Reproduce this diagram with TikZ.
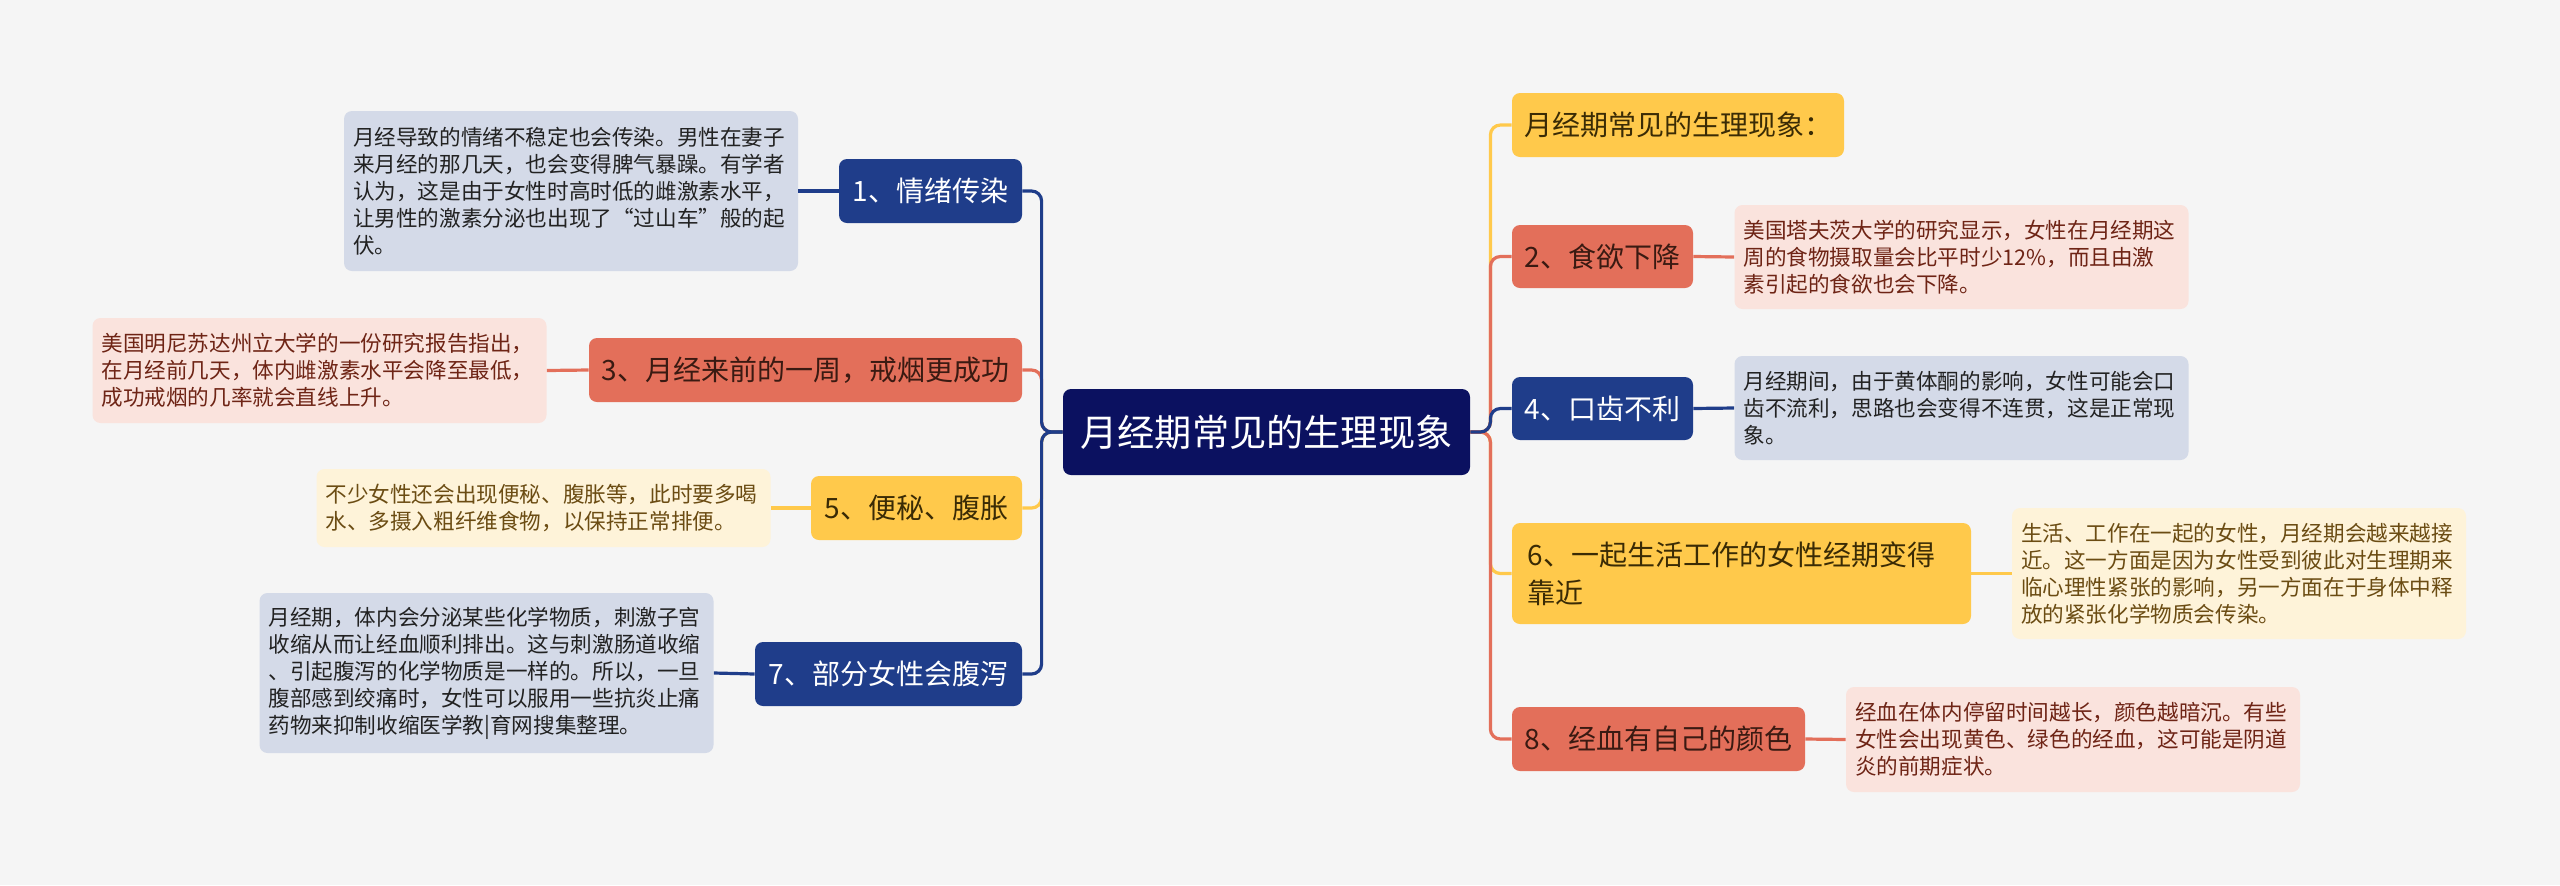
\documentclass[tikz,border=0pt]{standalone}
\usepackage{fontspec}
\newfontfamily\cjk{Noto Sans CJK SC}
\definecolor{bg}{HTML}{F5F5F5}
\definecolor{croot}{HTML}{0B1160}
\definecolor{cblue}{HTML}{1F3D8A}
\definecolor{cbluedet}{HTML}{D4DAE8}
\definecolor{cbluedettxt}{HTML}{222222}
\definecolor{cred}{HTML}{E36F5A}
\definecolor{credtxt}{HTML}{3A1A12}
\definecolor{creddet}{HTML}{FAE3DD}
\definecolor{creddettxt}{HTML}{6E2415}
\definecolor{cyel}{HTML}{FFC94B}
\definecolor{cyeltxt}{HTML}{3A2B05}
\definecolor{cyeldet}{HTML}{FEF3D9}
\definecolor{cyeldettxt}{HTML}{6B4C13}
\begin{document}
\begin{tikzpicture}[x=0.5pt,y=-0.5pt,
  base/.style={rounded corners=4pt, inner sep=0pt},
  rootbox/.style={base, fill=croot, text=white, minimum width=203.5pt, minimum height=43pt, font=\cjk\fontsize{18.6}{22}\selectfont},
  mainbox/.style={base, minimum height=32pt, font=\cjk\fontsize{14}{19}\selectfont},
  bluebox/.style={mainbox, fill=cblue, text=white},
  redbox/.style={mainbox, fill=cred, text=credtxt},
  yelbox/.style={mainbox, fill=cyel, text=cyeltxt},
  detail/.style={base, text width=218pt, inner xsep=4.5pt, align=left, font=\cjk\fontsize{10.8}{13.5}\selectfont},
  bluedet/.style={detail, fill=cbluedet, text=cbluedettxt},
  reddet/.style={detail, fill=creddet, text=creddettxt},
  yeldet/.style={detail, fill=cyeldet, text=cyeldettxt},
  link/.style={line width=1.6pt, rounded corners=5pt}
]
\fill[bg] (0,0) rectangle (2560,885);
\useasboundingbox (0,0) rectangle (2560,885);

% root
\node[rootbox] (root) at (1266.5,432) {月经期常见的生理现象};

% left side
\node[bluebox, minimum width=91.5pt] (b1) at (930.5,191) {1、情绪传染};
\node[bluedet, minimum height=80pt] (t1) at (571,191) {月经导致的情绪不稳定也会传染。男性在妻子\\来月经的那几天，也会变得脾气暴躁。有学者\\认为，这是由于女性时高时低的雌激素水平，\\让男性的激素分泌也出现了“过山车”般的起\\伏。};

\node[redbox, minimum width=216.5pt] (b3) at (805.5,370) {3、月经来前的一周，戒烟更成功};
\node[reddet, minimum height=52.5pt] (t3) at (319.5,370.5) {美国明尼苏达州立大学的一份研究报告指出，\\在月经前几天，体内雌激素水平会降至最低，\\成功戒烟的几率就会直线上升。};

\node[yelbox, minimum width=105.5pt] (b5) at (916.5,508) {5、便秘、腹胀};
\node[yeldet, minimum height=39pt] (t5) at (543.5,508) {不少女性还会出现便秘、腹胀等，此时要多喝\\水、多摄入粗纤维食物，以保持正常排便。};

\node[bluebox, minimum width=133.5pt] (b7) at (888.5,674) {7、部分女性会腹泻};
\node[bluedet, minimum height=80pt] (t7) at (486.5,673) {月经期，体内会分泌某些化学物质，刺激子宫\\收缩从而让经血顺利排出。这与刺激肠道收缩\\、引起腹泻的化学物质是一样的。所以，一旦\\腹部感到绞痛时，女性可以服用一些抗炎止痛\\药物来抑制收缩医学教|育网搜集整理。};

% right side
\node[yelbox, minimum width=166pt] (b0) at (1678,125) {月经期常见的生理现象：};

\node[redbox, minimum width=90.5pt, minimum height=31.5pt] (b2) at (1602.5,256.5) {2、食欲下降};
\node[reddet, minimum height=52pt] (t2) at (1961.5,257) {美国塔夫茨大学的研究显示，女性在月经期这\\周的食物摄取量会比平时少12\%，而且由激\\素引起的食欲也会下降。};

\node[bluebox, minimum width=90.5pt, minimum height=31.5pt] (b4) at (1602.5,408.5) {4、口齿不利};
\node[bluedet, minimum height=52pt] (t4) at (1961.5,408) {月经期间，由于黄体酮的影响，女性可能会口\\齿不流利，思路也会变得不连贯，这是正常现\\象。};

\node[yelbox, text width=214pt, inner xsep=7.75pt, align=left, minimum height=50.5pt] (b6) at (1741.5,573.5) {6、一起生活工作的女性经期变得\\靠近};
\node[yeldet, minimum height=65.5pt] (t6) at (2239,573.5) {生活、工作在一起的女性，月经期会越来越接\\近。这一方面是因为女性受到彼此对生理期来\\临心理性紧张的影响，另一方面在于身体中释\\放的紧张化学物质会传染。};

\node[redbox, minimum width=146.5pt] (b8) at (1658.5,739) {8、经血有自己的颜色};
\node[reddet, minimum height=52.5pt] (t8) at (2073,739.5) {经血在体内停留时间越长，颜色越暗沉。有些\\女性会出现黄色、绿色的经血，这可能是阴道\\炎的前期症状。};

% connectors root -> branches (left)
\draw[link, cred] (root.west) -- ++(-21,0) |- (b3.east);
\draw[link, cyel] (root.west) -- ++(-21,0) |- (b5.east);
\draw[link, cblue] (root.west) -- ++(-21,0) |- (b1.east);
\draw[link, cblue] (root.west) -- ++(-21,0) |- (b7.east);
% connectors root -> branches (right)
\draw[link, cyel] (root.east) -- ++(20,0) |- (b0.west);
\draw[link, cyel] (root.east) -- ++(20,0) |- (b6.west);
\draw[link, cred] (root.east) -- ++(20,0) |- (b2.west);
\draw[link, cred] (root.east) -- ++(20,0) |- (b8.west);
\draw[link, cblue] (root.east) -- ++(20,0) |- (b4.west);

% branch -> detail
\draw[link, cblue] (b1.west) -- (t1.east);
\draw[link, cred] (b3.west) -- (t3.east);
\draw[link, cyel] (b5.west) -- (t5.east);
\draw[link, cblue] (b7.west) -- (t7.east);
\draw[link, cred] (b2.east) -- (t2.west);
\draw[link, cblue] (b4.east) -- (t4.west);
\draw[link, cyel] (b6.east) -- (t6.west);
\draw[link, cred] (b8.east) -- (t8.west);
\end{tikzpicture}
\end{document}
